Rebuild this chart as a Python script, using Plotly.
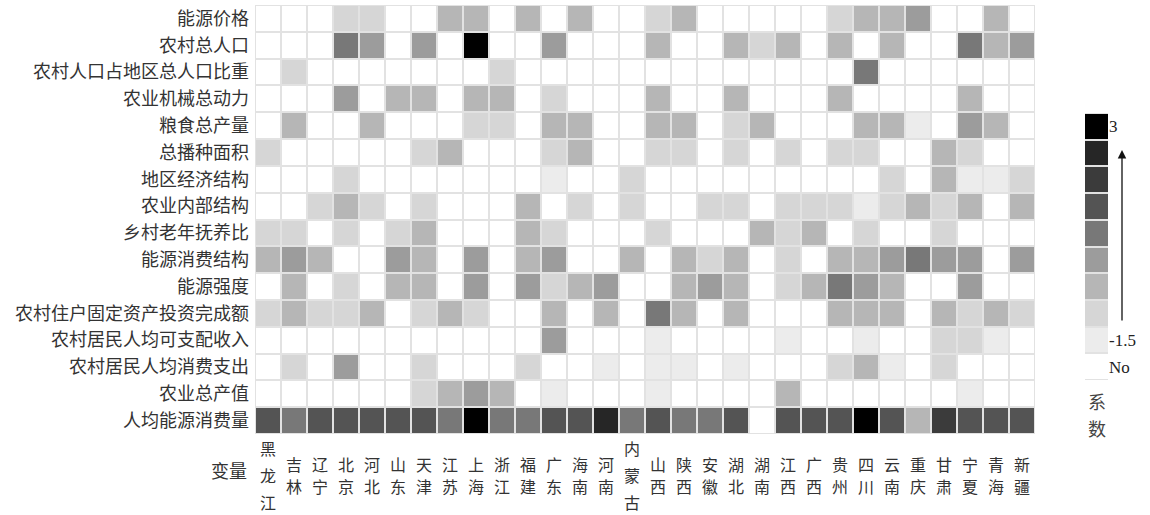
import plotly.graph_objects as go

# Provinces (columns) and driver variables (rows)
provinces = ["黑龙江", "吉林", "辽宁", "北京", "河北", "山东", "天津", "江苏", "上海", "浙江",
             "福建", "广东", "海南", "河南", "内蒙古", "山西", "陕西", "安徽", "湖北", "湖南",
             "江西", "广西", "贵州", "四川", "云南", "重庆", "甘肃", "宁夏", "青海", "新疆"]

variables = ["能源价格", "农村总人口", "农村人口占地区总人口比重", "农业机械总动力", "粮食总产量",
             "总播种面积", "地区经济结构", "农业内部结构", "乡村老年抚养比", "能源消费结构",
             "能源强度", "农村住户固定资产投资完成额", "农村居民人均可支配收入",
             "农村居民人均消费支出", "农业总产值", "人均能源消费量"]

# Coefficient grade per province: 0 = no effect, 1 (-1.5) ... 9 (3)
energy_price        = [0,0,0,2,2,0,0,3,3,0, 3,0,3,0,0,2,3,0,0,0, 0,0,2,3,3,4,0,0,3,0]
rural_population    = [0,0,0,5,4,0,4,0,9,0, 0,4,0,0,0,3,0,0,3,2, 3,0,3,0,3,0,0,5,3,4]
rural_pop_share     = [0,2,0,0,0,0,0,0,0,2, 0,0,0,0,0,0,0,0,0,0, 0,0,0,5,0,0,0,0,0,0]
machinery_power     = [0,0,0,4,0,3,3,0,3,3, 0,2,0,0,0,3,0,0,3,0, 0,0,3,0,0,0,0,3,0,0]
grain_output        = [0,3,0,0,3,0,0,0,2,2, 0,3,3,0,0,3,3,0,2,3, 0,0,0,3,3,1,0,4,3,0]
sown_area           = [2,0,0,0,0,0,2,3,0,0, 0,2,3,0,0,2,2,0,2,0, 2,0,2,2,0,0,3,2,0,0]
economic_structure  = [0,0,0,2,0,0,0,0,0,0, 0,1,0,0,2,0,0,0,0,0, 0,0,0,0,2,0,3,1,1,2]
agri_structure      = [0,0,2,3,2,0,2,0,0,0, 3,0,2,0,2,0,0,2,2,0, 2,2,2,1,2,3,2,3,0,3]
elderly_dependency  = [2,2,0,2,0,2,3,0,0,0, 3,2,0,0,0,2,0,0,0,3, 2,3,0,2,0,0,2,0,0,0]
consumption_mix     = [3,4,3,0,0,4,3,0,4,0, 3,4,0,0,3,0,3,2,3,0, 2,0,3,3,4,5,4,4,0,4]
energy_intensity    = [0,3,0,2,0,3,3,0,4,0, 4,2,3,4,0,0,3,4,3,0, 2,3,5,4,3,0,0,4,0,0]
fixed_investment    = [2,3,2,2,3,0,2,3,2,0, 0,3,0,3,0,5,3,0,3,0, 0,0,3,3,3,0,3,2,3,2]
disposable_income   = [0,0,0,0,0,0,0,0,0,0, 0,4,0,0,0,1,0,0,0,0, 1,0,0,1,0,0,2,2,1,0]
consumption_spend   = [0,2,0,4,0,0,2,0,0,0, 2,0,0,1,0,1,1,0,1,0, 0,0,2,3,1,0,2,0,0,0]
agri_output_value   = [0,0,0,0,0,0,2,3,4,3, 0,1,0,0,0,1,0,0,0,0, 3,0,0,0,0,0,0,1,0,0]
per_capita_energy   = [6,5,6,6,6,6,6,5,9,5, 5,6,6,8,5,6,5,5,6,0, 6,6,6,9,6,3,7,6,6,6]

rows = [energy_price, rural_population, rural_pop_share, machinery_power, grain_output,
        sown_area, economic_structure, agri_structure, elderly_dependency, consumption_mix,
        energy_intensity, fixed_investment, disposable_income, consumption_spend,
        agri_output_value, per_capita_energy]

# Grey shade per grade, white for "No"
grade_colors = ["#ffffff", "#ececec", "#d6d6d6", "#b6b6b6", "#9c9c9c",
                "#787878", "#545454", "#3b3b3b", "#262626", "#000000"]
legend_levels = list(range(10))
legend_tick_levels = [9, 1, 0]
legend_tick_text = ["3", "-1.5", "No"]

n = len(grade_colors)
colorscale = []
for i, c in enumerate(grade_colors):
    colorscale.append([i / n, c])
    colorscale.append([(i + 1) / n, c])

fig = go.Figure()

fig.add_trace(go.Heatmap(
    z=rows, x=provinces, y=variables,
    colorscale=colorscale, zmin=-0.5, zmax=n - 0.5,
    xgap=2, ygap=2, showscale=False, hoverongaps=False,
))

# Stepped grade key drawn as its own small heatmap
fig.add_trace(go.Heatmap(
    z=[[v] for v in legend_levels], y=legend_levels, x=[0],
    colorscale=colorscale, zmin=-0.5, zmax=n - 0.5,
    xgap=0, ygap=2, showscale=False, xaxis="x2", yaxis="y2",
))

W, H = 1150, 515
ml, mr, mt, mb = 255, 5, 5, 81
pw = W - ml - mr
ph = H - mt - mb


def px_x(x):
    return (x - ml) / pw


def px_y(y):
    return (H - mb - y) / ph


cjk = "Noto Sans CJK SC"
serif = "Liberation Serif, Noto Sans CJK SC"
text_color = "#333333"

annotations = []
# Province names written vertically, one character per line, centred on a common baseline row
label_mid = 475
for p in provinces:
    step = 27 if len(p) > 2 else 23
    first = label_mid - step * (len(p) - 1) / 2
    for k, ch in enumerate(p):
        annotations.append(dict(
            x=p, xref="x", y=px_y(first + k * step), yref="paper",
            yanchor="middle", xanchor="center", text=ch, showarrow=False,
            font=dict(family=cjk, size=16, color=text_color),
        ))

annotations.append(dict(
    x=px_x(229), y=px_y(470), xref="paper", yref="paper", text="变量",
    showarrow=False, xanchor="center", yanchor="middle",
    font=dict(family=cjk, size=18, color=text_color),
))
for k, ch in enumerate("系数"):
    annotations.append(dict(
        x=px_x(1097), y=px_y(401 + 27 * k), xref="paper", yref="paper", text=ch,
        showarrow=False, xanchor="center", yanchor="middle",
        font=dict(family=cjk, size=18, color="#444444"),
    ))
# upward arrow beside the key
annotations.append(dict(
    x=px_x(1122), y=px_y(150), xref="paper", yref="paper", text="",
    showarrow=True, ax=0, ay=172, arrowhead=2, arrowsize=1.3, arrowwidth=1.3,
    arrowcolor="#111111",
))

fig.update_layout(
    width=W, height=H,
    margin=dict(l=ml, r=mr, t=mt, b=mb),
    paper_bgcolor="white", plot_bgcolor="#e2e2e2",
    xaxis=dict(domain=[0, 780 / pw], showticklabels=False, ticks="",
               showgrid=False, zeroline=False),
    yaxis=dict(autorange="reversed", ticks="", showgrid=False, zeroline=False,
               ticklabelstandoff=5,
               tickfont=dict(family=cjk, size=18, color=text_color)),
    xaxis2=dict(domain=[px_x(1085), px_x(1108)], anchor="y2", showticklabels=False,
                ticks="", showgrid=False, zeroline=False),
    yaxis2=dict(domain=[px_y(380), px_y(113)], anchor="x2", side="right",
                range=[-0.5, n - 0.5], tickvals=legend_tick_levels,
                ticktext=legend_tick_text, ticks="", showgrid=False, zeroline=False,
                tickfont=dict(family=serif, size=17, color="#222222")),
    annotations=annotations,
)

fig.write_html("out.html")
